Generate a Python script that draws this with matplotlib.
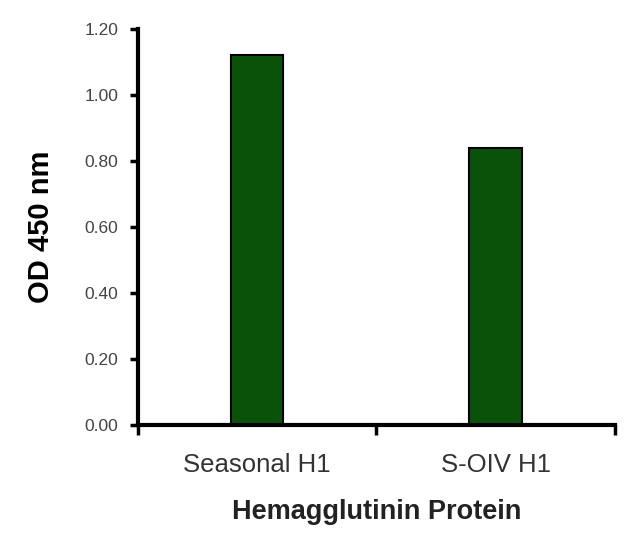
import matplotlib
matplotlib.use("Agg")
import matplotlib.pyplot as plt
import numpy as np

categories = ["Seasonal H1", "S-OIV H1"]
od_values = [1.12, 0.84]
y_ticks = [0.0, 0.2, 0.4, 0.6, 0.8, 1.0, 1.2]

plt.rcParams["font.family"] = ["Liberation Sans", "DejaVu Sans"]

fig = plt.figure(figsize=(6.4, 5.47), dpi=100)
ax = fig.add_axes([0.2156, 0.223, 0.745, 0.724])

x = np.arange(len(categories))
ax.bar(x, od_values, width=0.22, color="#0a520a", edgecolor="black", linewidth=1.5)

ax.set_xlim(-0.5, len(categories) - 0.5)
ax.set_ylim(0, 1.2)
ax.set_yticks(y_ticks)
ax.set_yticklabels(["%.2f" % v for v in y_ticks], fontsize=12.5, color="#444444")

# category boundaries as ticks, labels in the middle
ax.set_xticks(np.arange(-0.5, len(categories), 1.0))
ax.set_xticklabels([])
ax.set_xticks(x, minor=True)
ax.set_xticklabels(categories, minor=True, fontsize=18.5, color="#333333")
ax.tick_params(axis="x", which="minor", length=0, pad=20)
ax.tick_params(axis="x", which="major", direction="out", length=7, width=2.5)
ax.tick_params(axis="y", direction="out", length=6, width=2.5, pad=8)

for side in ["top", "right"]:
    ax.spines[side].set_visible(False)
for side in ["left", "bottom"]:
    ax.spines[side].set_linewidth(3)

ax.set_ylabel("OD 450 nm", fontsize=21, fontweight="bold", labelpad=21)
ax.set_xlabel("Hemagglutinin Protein", fontsize=19.5, fontweight="bold", labelpad=16,
              color="#222222")

fig.savefig("out.png", dpi=100)
